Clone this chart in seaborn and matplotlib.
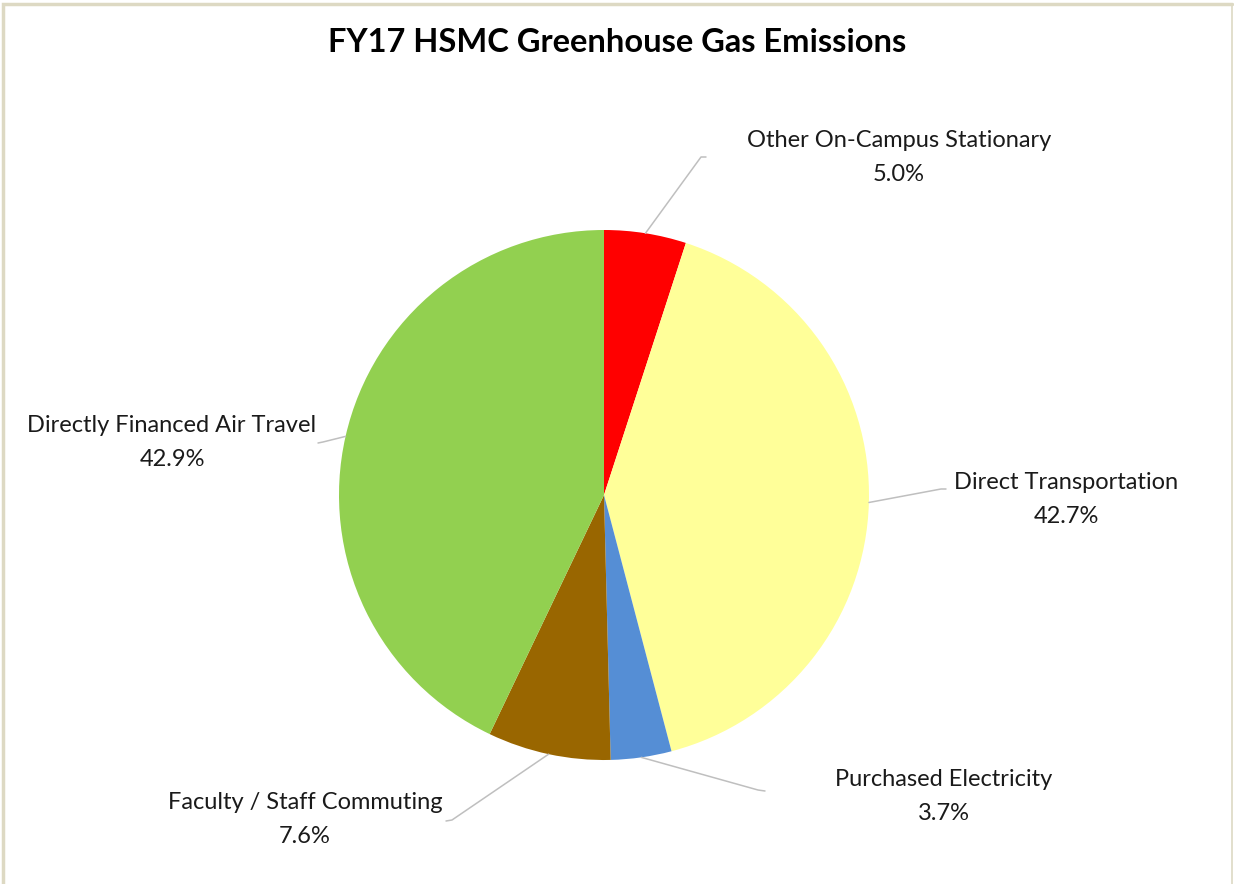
import numpy as np
import matplotlib.pyplot as plt
import seaborn as sns

sns.set_theme(style="white")
plt.rcParams['font.family'] = ['Lato', 'DejaVu Sans']

# slice data (clockwise from 12 o'clock)
categories = ['Other On-Campus Stationary', 'Direct Transportation',
              'Purchased Electricity', 'Faculty / Staff Commuting',
              'Directly Financed Air Travel']
shares = [5.0, 40.9, 3.7, 7.5, 42.9]          # slice sizes as drawn
share_labels = ['5.0%', '42.7%', '3.7%', '7.6%', '42.9%']  # printed values
colors = ['#FF0000', '#FFFF99', '#558ED5', '#996600', '#92D050']

W, H = 1234, 884
def py(y):
    # pixel row (from top) -> data y (from bottom)
    return H - y

fig = plt.figure(figsize=(W / 100, H / 100), dpi=100)
ax = fig.add_axes([0, 0, 1, 1])

cx, cy, r = 604, py(495), 265
wedges, _ = ax.pie(shares, colors=colors, startangle=90, counterclock=False,
                   center=(cx, cy), radius=r,
                   wedgeprops=dict(linewidth=0))
ax.set_xlim(0, W)
ax.set_ylim(0, H)
ax.set_aspect('equal')
ax.axis('off')

# label layout: (x centre, baseline of first line) in pixels, leader elbow + end
label_xy = [(899, 147), (1066, 489), (944, 786), (305, 809), (172, 432)]
leader_pts = [[(701, 157), (706, 157)],
              [(941, 489), (946, 489)],
              [(758, 790), (765, 791)],
              [(452, 820), (446, 821)],
              [(323, 442), (318, 443)]]

for w, name, pct, (lx, ly), pts in zip(wedges, categories, share_labels,
                                         label_xy, leader_pts):
    mid = np.deg2rad((w.theta1 + w.theta2) / 2)
    sx, sy = cx + r * np.cos(mid), cy + r * np.sin(mid)
    xs = [sx] + [p[0] for p in pts]
    ys = [sy] + [py(p[1]) for p in pts]
    ax.plot(xs, ys, color='#BFBFBF', lw=1.1, solid_capstyle='round')
    ax.text(lx, py(ly), name, ha='center', va='baseline', fontsize=17,
            color='#1a1a1a')
    ax.text(lx, py(ly + 34), pct, ha='center', va='baseline', fontsize=17,
            color='#1a1a1a')

ax.text(617, py(52), 'FY17 HSMC Greenhouse Gas Emissions', ha='center',
        va='baseline', fontsize=23.5, fontweight='bold', color='black')

# chart frame (top, left heavier; right thin)
frame_c = '#DDD9C3'
ax.plot([3, 3, 1232], [0, py(4), py(4)], color=frame_c, lw=2.5,
        solid_joinstyle='miter', clip_on=False)
ax.plot([1232, 1232], [py(4), 0], color=frame_c, lw=1.2, clip_on=False)

fig.savefig('out.png', dpi=100)
